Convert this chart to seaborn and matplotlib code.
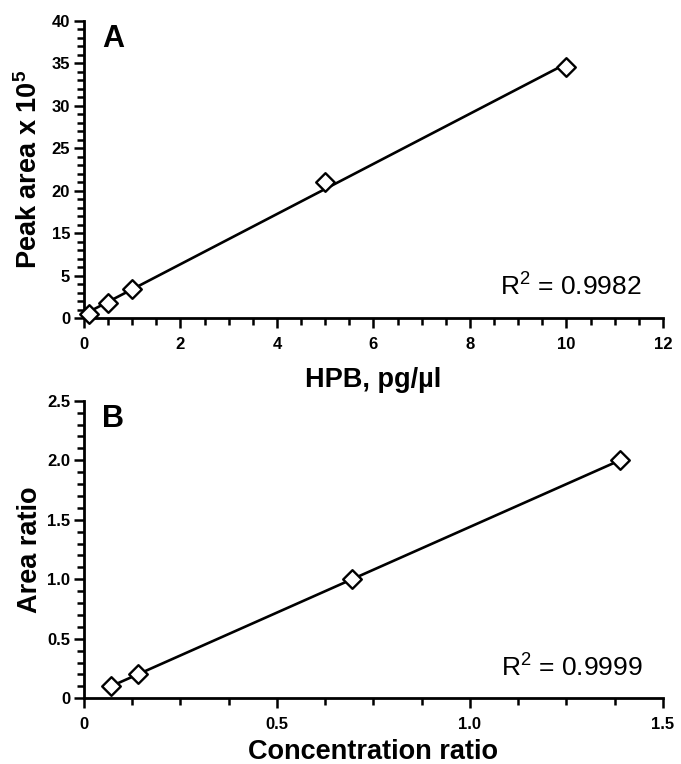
import matplotlib
matplotlib.use('Agg')
import matplotlib.pyplot as plt
import seaborn as sns
import numpy as np
import pandas as pd
from matplotlib.ticker import MultipleLocator

# ---- data ----
hpb_conc = [0.1, 0.5, 1.0, 5.0, 10.0]
peak_area = [0.44, 1.73, 3.45, 16.0, 29.6]
conc_ratio = [0.069, 0.139, 0.694, 1.389]
area_ratio = [0.10, 0.20, 1.00, 2.00]

a_xticks = [0, 2, 4, 6, 8, 10, 12]
a_xticklabels = ['0', '2', '4', '6', '8', '10', '12']
a_yticks = [0, 5, 10, 15, 20, 25, 30, 35]
a_yticklabels = ['0', '5', '15', '20', '25', '30', '35', '40']
b_xticks = [0, 0.5, 1.0, 1.5]
b_xticklabels = ['0', '0.5', '1.0', '1.5']
b_yticks = [0, 0.5, 1.0, 1.5, 2.0, 2.5]
b_yticklabels = ['0', '0.5', '1.0', '1.5', '2.0', '2.5']

r2_a = 'R$^2$ = 0.9982'
r2_b = 'R$^2$ = 0.9999'

sns.set_style('ticks')
plt.rcParams['font.family'] = ['Liberation Sans', 'DejaVu Sans']
plt.rcParams['mathtext.fontset'] = 'custom'
plt.rcParams['mathtext.rm'] = 'Liberation Sans'
plt.rcParams['mathtext.it'] = 'Liberation Sans:italic'
plt.rcParams['mathtext.bf'] = 'Liberation Sans:bold'
for k in ('text.color', 'axes.labelcolor', 'xtick.color', 'ytick.color',
          'axes.edgecolor'):
    plt.rcParams[k] = 'black'

W, H = 681, 764
fig = plt.figure(figsize=(W / 100, H / 100), dpi=100)
axA = fig.add_axes([84 / W, 1 - 318 / H, 579 / W, 297 / H])
axB = fig.add_axes([84 / W, 1 - 698.3 / H, 579 / W, 297.6 / H])


def draw(ax, x, y):
    df = pd.DataFrame({'x': x, 'y': y})
    sns.regplot(data=df, x='x', y='y', ax=ax, scatter=False, ci=None,
                truncate=True, color='black', line_kws=dict(lw=1.9, zorder=2))
    sns.scatterplot(data=df, x='x', y='y', ax=ax, marker='D', s=90,
                    facecolor='white', edgecolor='black', linewidth=1.7,
                    zorder=4, clip_on=False)


draw(axA, hpb_conc, peak_area)
draw(axB, conc_ratio, area_ratio)

tick_font = dict(fontsize=12, fontweight='bold')
for ax in (axA, axB):
    for s in ('top', 'right'):
        ax.spines[s].set_visible(False)
    for s in ('left', 'bottom'):
        ax.spines[s].set_linewidth(2.0)
        ax.spines[s].set_zorder(3)
    ax.tick_params(which='major', direction='out', length=7, width=1.8,
                   color='black')
    ax.tick_params(which='minor', direction='out', length=5, width=1.8,
                   color='black')
    ax.tick_params(axis='x', which='major', pad=6.5)
    ax.tick_params(axis='y', which='major', pad=3)

axA.set_xlim(0, 12)
axA.set_ylim(0, 35)
axA.set_xticks(a_xticks, a_xticklabels, **tick_font)
axA.set_yticks(a_yticks, a_yticklabels, **tick_font)
axA.xaxis.set_minor_locator(MultipleLocator(0.5))
axA.yaxis.set_minor_locator(MultipleLocator(1))

axB.set_xlim(0, 1.5)
axB.set_ylim(0, 2.5)
axB.set_xticks(b_xticks, b_xticklabels, **tick_font)
axB.set_yticks(b_yticks, b_yticklabels, **tick_font)
axB.xaxis.set_minor_locator(MultipleLocator(0.125))
axB.yaxis.set_minor_locator(MultipleLocator(0.1))

lab = dict(fontsize=19.5, fontweight='bold')
axA.set_xlabel('HPB, pg/µl', labelpad=11, **lab)
axA.set_ylabel('Peak area x 10$^\\mathbf{5}$', **lab)
axB.set_xlabel('Concentration ratio', labelpad=5, **lab)
axB.set_ylabel('Area ratio', **lab)
axA.yaxis.set_label_coords(-0.071, 0.5)
axB.yaxis.set_label_coords(-0.071, 0.5)

axA.text(0.031, 0.912, 'A', transform=axA.transAxes, fontsize=22,
         fontweight='bold', va='baseline', ha='left')
axB.text(0.031, 0.912, 'B', transform=axB.transAxes, fontsize=22,
         fontweight='bold', va='baseline', ha='left')

axA.text(0.963, 0.077, r2_a, transform=axA.transAxes, fontsize=19,
         va='baseline', ha='right')
axB.text(0.965, 0.073, r2_b, transform=axB.transAxes, fontsize=19,
         va='baseline', ha='right')

fig.savefig('out.png', dpi=100)
